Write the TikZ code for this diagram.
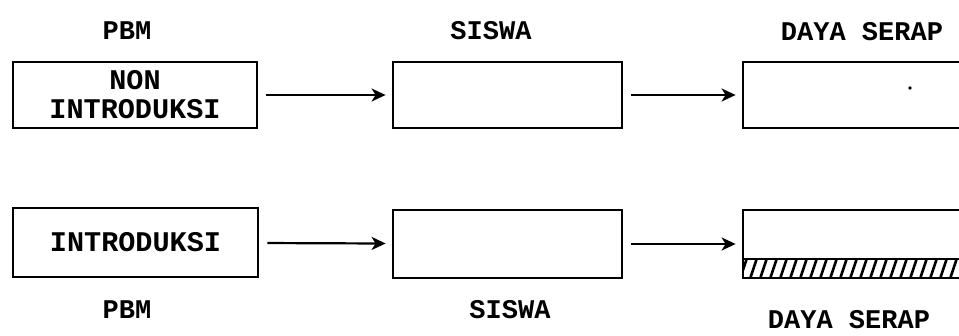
\documentclass[tikz,border=0pt]{standalone}
\usepackage{fontspec}
\setmainfont{Liberation Mono}
\usetikzlibrary{arrows.meta}
\tikzset{
  box/.style={draw, line width=2.8pt, inner sep=0pt, align=center,
    font=\fontsize{28.5}{29}\selectfont\bfseries},
  lbl/.style={inner sep=0pt, font=\fontsize{27}{29}\selectfont\bfseries},
  flow/.style={line width=2.2pt, -{Stealth[length=14pt,width=13pt,inset=4pt]}, shorten <=8pt, shorten >=6pt}
}
\begin{document}
\begin{tikzpicture}[x=1pt,y=-1pt]
\useasboundingbox (0,0) rectangle (959,335);
\clip (0,0) rectangle (959,335);
% top row
\node[box, minimum width=244pt, minimum height=66pt] (p1) at (135,95) {NON\\INTRODUKSI};
\node[box, minimum width=229pt, minimum height=66pt] (s1) at (507.5,95) {};
\node[box, minimum width=257pt, minimum height=66pt] (d1) at (871.5,95) {};
\node[lbl] (lp1) at (127,31) {PBM};
\node[lbl] (ls1) at (491,31) {SISWA};
\node[lbl] (ld1) at (862,32) {DAYA SERAP};
\draw[flow] (p1) -- (s1);
\draw[flow] (s1) -- (d1);
\fill (910,88) circle (1.8pt);
% bottom row
\node[box, minimum width=245pt, minimum height=69pt] (p2) at (135.5,242.5) {INTRODUKSI};
\node[box, minimum width=229pt, minimum height=68pt] (s2) at (507.5,244) {};
\node[box, minimum width=257pt, minimum height=68pt] (d2) at (871.5,244) {};
\node[lbl] (lp2) at (127,310) {PBM};
\node[lbl] (ls2) at (510,310) {SISWA};
\node[lbl] (ld2) at (849,320) {DAYA SERAP};
\draw[flow] (p2) -- (s2);
\draw[flow] (s2) -- (d2);
\draw[line width=2.8pt] (d2.west |- 0,259) -- (d2.east |- 0,259);
\begin{scope}
\clip (743,259) rectangle (970,278);
\foreach \i in {0,...,24} {
  \draw[line width=2.6pt] ({740+10*\i},279) -- ({747+10*\i},258);
}
\end{scope}
\end{tikzpicture}
\end{document}
